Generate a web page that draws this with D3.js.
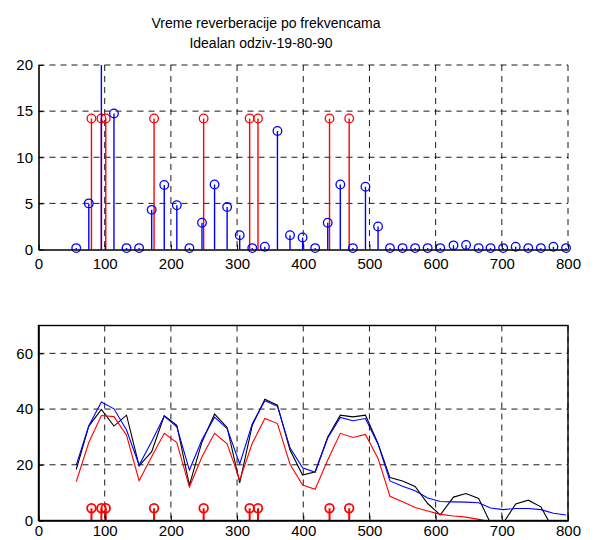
<!DOCTYPE html>
<html>
<head>
<meta charset="utf-8">
<script src="https://cdn.jsdelivr.net/npm/d3@7"></script>
<style>
  html, body { margin: 0; padding: 0; background: #fff; }
  svg { display: block; font-family: "Liberation Sans", Arial, sans-serif; }
  .tick text { font-size: 15px; fill: #000; }
  .title { font-size: 14px; fill: #000; }
</style>
</head>
<body>
<svg id="chart" width="595" height="540"></svg>
<script>
// Analysed frequencies (Hz)
const freqs = [57, 76, 95, 114, 133, 152, 171, 190, 209, 228,
               247, 266, 285, 304, 323, 342, 361, 380, 399, 418,
               437, 456, 475, 494, 513, 531, 550, 569, 588, 607,
               627, 646, 665, 683, 702, 721, 740, 759, 778, 797];

// Reverberation time per frequency (upper panel, blue stems)
const reverbTime = [0.15, 5.0, 24, 14.75, 0.15, 0.15, 4.3, 7.0, 4.8, 0.15,
                    2.9, 7.05, 4.6, 1.55, 0.15, 0.3, 12.85, 1.55, 1.3, 0.15,
                    2.9, 7.05, 0.15, 6.8, 2.5, 0.15, 0.15, 0.15, 0.15, 0.15,
                    0.45, 0.5, 0.15, 0.15, 0.15, 0.3, 0.15, 0.15, 0.3, 0.15];

// Room mode frequencies (red stems) and their marker levels
const modeFreqs = [80, 95, 101.6, 174.6, 249.5, 319, 331.6, 439.7, 469.4];
const modeLevelTop = 14.2;
const modeLevelBottom = 4.4;

// Response curves (lower panel)
const blackLine = [18.3, 33.9, 39.9, 33.9, 37.8, 19.6, 24.7, 37.6, 34.2, 12.7,
                   28.2, 38.2, 33.4, 13.5, 34.2, 43.5, 41.4, 25.3, 16.3, 17.5,
                   30.0, 37.8, 37.2, 37.8, 27.7, 15.4, 14.2, 12.2, 6.1, 2.0,
                   8.4, 9.7, 7.9, -1, -1, 5.9, 7.3, 4.9, -3.3, null];
const blueLine = [19.9, 34.0, 42.5, 40.1, 32.5, 19.9, 28.4, 37.5, 33.6, 18.1,
                  29.0, 37.1, 33.0, 20.3, 34.7, 43.0, 41.0, 26.1, 18.9, 17.3,
                  29.6, 37.0, 35.8, 36.6, 27.4, 14.2, 12.3, 10.7, 8.1, 6.8,
                  6.7, 6.6, 6.4, 4.5, 3.9, 4.3, 4.3, 3.9, 2.6, 2.0];
const redLine = [13.9, 28.0, 37.7, 37.3, 30.6, 14.3, 22.9, 31.3, 28.0, 12.0,
                 22.9, 31.3, 27.5, 14.5, 27.7, 36.6, 34.8, 20.2, 12.7, 11.2,
                 21.7, 31.3, 29.8, 30.9, 22.3, 8.7, 6.7, 4.7, 3.4, 2.2,
                 1.6, 1.2, 0.4, -0.4, null, null, null, null, null, null];

// Axis ticks
const xTicks = [0, 100, 200, 300, 400, 500, 600, 700, 800];
const yTicksTop = [0, 5, 10, 15, 20];
const yTicksBottom = [0, 20, 40, 60];

const svg = d3.select("#chart");

// Title
svg.append("text").attr("class", "title").attr("x", 266).attr("y", 28)
  .attr("text-anchor", "middle").text("Vreme reverberacije po frekvencama");
svg.append("text").attr("class", "title").attr("x", 261).attr("y", 48)
  .attr("text-anchor", "middle").text("Idealan odziv-19-80-90");

const left = 38.5, right = 568;

function gridAndAxes(g, x, y, yTicks, top, bottom) {
  // dashed grid
  g.append("g").selectAll("line").data(xTicks.filter(d => d > 0)).join("line")
    .attr("x1", d => x(d)).attr("x2", d => x(d))
    .attr("y1", top).attr("y2", bottom)
    .attr("stroke", "#000").attr("stroke-width", 0.9).attr("stroke-dasharray", "6,5");
  g.append("g").selectAll("line").data(yTicks.filter(d => d > 0)).join("line")
    .attr("x1", left).attr("x2", right)
    .attr("y1", d => y(d)).attr("y2", d => y(d))
    .attr("stroke", "#000").attr("stroke-width", 0.9).attr("stroke-dasharray", "6,5");
}

function drawAxes(g, x, y, yTicks, bottom, pad) {
  const ax = g.append("g").attr("transform", `translate(0,${bottom})`)
    .call(d3.axisBottom(x).tickValues(xTicks).tickSizeInner(-5).tickSizeOuter(0).tickPadding(pad));
  const ay = g.append("g").attr("transform", `translate(${left},0)`)
    .call(d3.axisLeft(y).tickValues(yTicks).tickSizeInner(-5).tickSizeOuter(0).tickPadding(5.5));
  [ax, ay].forEach(a => {
    a.select(".domain").attr("stroke", "#000").attr("stroke-width", 1.6);
    a.selectAll(".tick line").attr("stroke", "#000");
    a.selectAll(".tick text").attr("font-family", "Liberation Sans, Arial, sans-serif");
  });
}

// ---------- Upper panel: reverberation time stems ----------
const topY0 = 65, topY1 = 249.5;
const xTop = d3.scaleLinear().domain([0, 800]).range([left, right]);
const yTop = d3.scaleLinear().domain([0, 20]).range([topY1, topY0]);
const gTop = svg.append("g");
gridAndAxes(gTop, xTop, yTop, yTicksTop, topY0, topY1);

svg.append("clipPath").attr("id", "clipTop").append("rect")
  .attr("x", left - 10).attr("y", topY0).attr("width", right - left + 20).attr("height", topY1 - topY0 + 12);
const stemsTop = gTop.append("g").attr("clip-path", "url(#clipTop)");

// red mode stems
stemsTop.append("g").selectAll("line").data(modeFreqs).join("line")
  .attr("x1", d => xTop(d)).attr("x2", d => xTop(d))
  .attr("y1", yTop(0)).attr("y2", yTop(modeLevelTop))
  .attr("stroke", "#f00").attr("stroke-width", 1.4);
stemsTop.append("g").selectAll("circle").data(modeFreqs).join("circle")
  .attr("cx", d => xTop(d)).attr("cy", yTop(modeLevelTop)).attr("r", 4.3)
  .attr("fill", "none").attr("stroke", "#f00").attr("stroke-width", 1.3);

// blue reverberation stems
const rt = freqs.map((f, i) => ({ f, v: reverbTime[i] }));
stemsTop.append("g").selectAll("line").data(rt).join("line")
  .attr("x1", d => xTop(d.f)).attr("x2", d => xTop(d.f))
  .attr("y1", yTop(0)).attr("y2", d => yTop(d.v))
  .attr("stroke", "#00f").attr("stroke-width", 1.4);
stemsTop.append("g").selectAll("circle").data(rt).join("circle")
  .attr("cx", d => xTop(d.f)).attr("cy", d => yTop(d.v)).attr("r", 4.3)
  .attr("fill", "none").attr("stroke", "#00f").attr("stroke-width", 1.3);

drawAxes(gTop, xTop, yTop, yTicksTop, topY1, 9);

// ---------- Lower panel: response curves ----------
const botY0 = 325.5, botY1 = 520.5;
const xBot = d3.scaleLinear().domain([0, 800]).range([left, right]);
const yBot = d3.scaleLinear().domain([0, 70]).range([botY1, botY0]);
const gBot = svg.append("g");
gridAndAxes(gBot, xBot, yBot, yTicksBottom, botY0, botY1);

svg.append("clipPath").attr("id", "clipBot").append("rect")
  .attr("x", left).attr("y", botY0).attr("width", right - left).attr("height", botY1 - botY0);

const line = d3.line()
  .defined(d => d.v !== null)
  .x(d => xBot(d.f)).y(d => yBot(d.v));
const curves = gBot.append("g").attr("clip-path", "url(#clipBot)");
[[blackLine, "#000"], [blueLine, "#00f"], [redLine, "#f00"]].forEach(([vals, col]) => {
  curves.append("path")
    .datum(freqs.map((f, i) => ({ f, v: vals[i] })))
    .attr("d", line).attr("fill", "none").attr("stroke", col).attr("stroke-width", 1.1);
});

// red mode markers
gBot.append("g").selectAll("line").data(modeFreqs).join("line")
  .attr("x1", d => xBot(d)).attr("x2", d => xBot(d))
  .attr("y1", yBot(0)).attr("y2", yBot(modeLevelBottom))
  .attr("stroke", "#f00").attr("stroke-width", 2);
gBot.append("g").selectAll("circle").data(modeFreqs).join("circle")
  .attr("cx", d => xBot(d)).attr("cy", yBot(modeLevelBottom)).attr("r", 4.3)
  .attr("fill", "none").attr("stroke", "#f00").attr("stroke-width", 1.8);

// box
gBot.append("rect").attr("x", left).attr("y", botY0)
  .attr("width", right - left).attr("height", botY1 - botY0)
  .attr("fill", "none").attr("stroke", "#000").attr("stroke-width", 1.4);
drawAxes(gBot, xBot, yBot, yTicksBottom, botY1, 4.5);
</script>
</body>
</html>
